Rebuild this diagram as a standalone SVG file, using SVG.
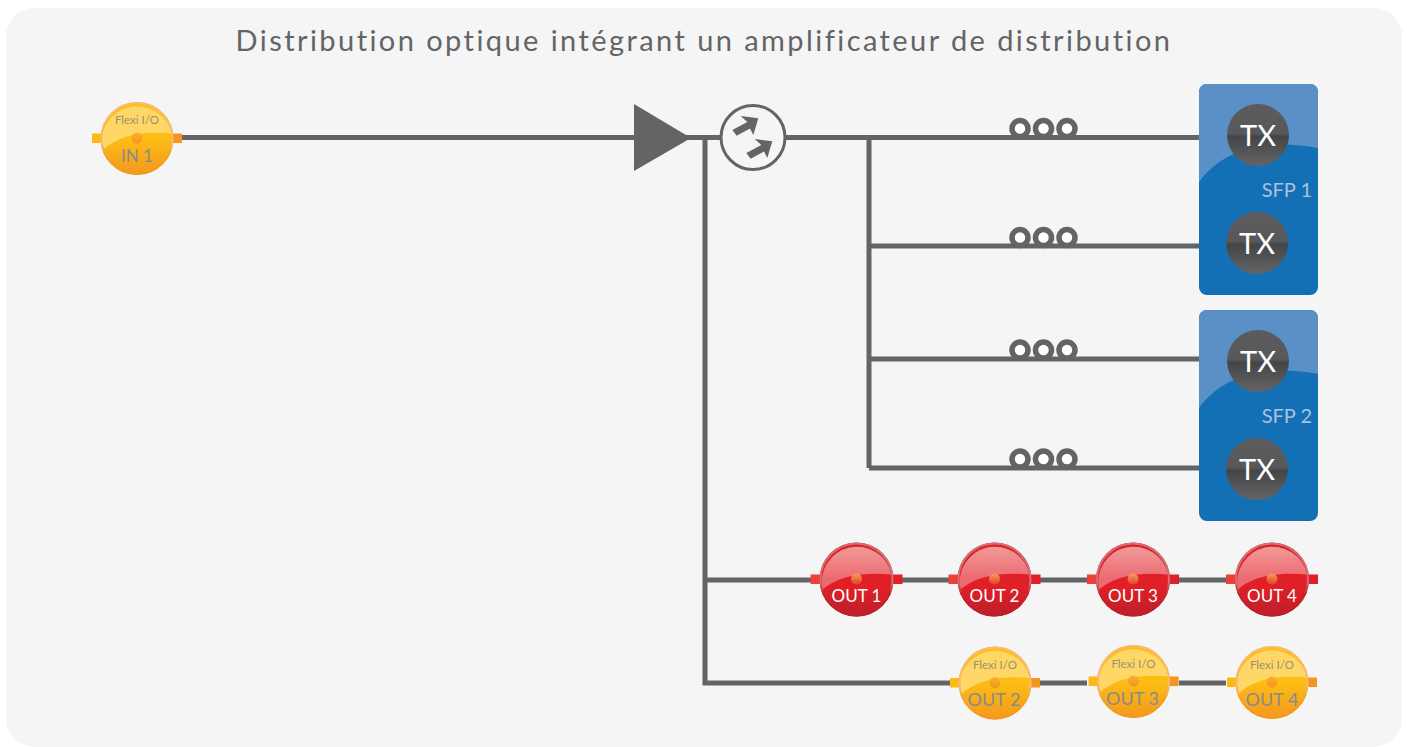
<svg xmlns="http://www.w3.org/2000/svg" width="1407" height="747" viewBox="0 0 1407 747">
<style>
text{font-family:"Lato","Open Sans","Liberation Sans",sans-serif}
.wire{stroke:#636466;stroke-width:5;fill:none}
.coil{stroke:#636466;stroke-width:5.500;fill:#fff}
.t{text-anchor:middle}
.tx{font-size:29px;fill:#fff;text-anchor:middle}
.sfp{font-size:20px;fill:#a9c3dc;text-anchor:end}
.out{font-size:17px;fill:#fff;text-anchor:middle}
.outy{font-size:18px;fill:#8a8a8a;text-anchor:middle}
.in{font-size:17px}
.flexi{font-size:11.500px;fill:#9a9270;text-anchor:middle}
</style>
<defs>
<linearGradient id="gy" x1="0" y1="0" x2="0" y2="1"><stop offset="0" stop-color="#fdc010"/><stop offset=".5" stop-color="#fcbd14"/><stop offset="1" stop-color="#f4981f"/></linearGradient>
<linearGradient id="gr" x1="0" y1="0" x2="0" y2="1"><stop offset="0" stop-color="#e11f26"/><stop offset=".6" stop-color="#e11f26"/><stop offset="1" stop-color="#bb1f2a"/></linearGradient>
<linearGradient id="grt" x1="0" y1="0" x2="0" y2="1"><stop offset="0" stop-color="#f09a98"/><stop offset=".75" stop-color="#ec6a72"/></linearGradient>
<linearGradient id="rr" x1="0" y1="0" x2="0" y2="1"><stop offset="0" stop-color="#cf6f78"/><stop offset=".55" stop-color="#cf6f78"/><stop offset=".7" stop-color="#c9222b"/><stop offset="1" stop-color="#bb1f2a"/></linearGradient>
<linearGradient id="ry" x1="0" y1="0" x2="0" y2="1"><stop offset="0" stop-color="#f9b873"/><stop offset=".55" stop-color="#f9b873"/><stop offset=".75" stop-color="#f3a21e"/><stop offset="1" stop-color="#f09820"/></linearGradient>
<linearGradient id="gdr" x1="0" y1="0" x2="0" y2="1"><stop offset="0" stop-color="#f2a05a"/><stop offset="1" stop-color="#e5402e"/></linearGradient>
<linearGradient id="gdy" x1="0" y1="0" x2="0" y2="1"><stop offset="0" stop-color="#f9b32a"/><stop offset="1" stop-color="#f19321"/></linearGradient>
<linearGradient id="gtx" x1="0" y1="0" x2="0" y2="1"><stop offset="0" stop-color="#5c5c5e"/><stop offset=".48" stop-color="#58585a"/><stop offset=".52" stop-color="#444547"/><stop offset="1" stop-color="#646466"/></linearGradient>
<symbol id="yel" overflow="visible">
<rect x="-45" y="-5" width="10" height="9.500" fill="#fdb913"/>
<rect x="35" y="-5" width="10" height="9.500" fill="#f3951f"/>
<circle r="36.500" fill="url(#gy)"/>
<path d="M-34.500 12C-20-3 6-8 35-5A35 35 0 1 0-34.500 12Z" fill="#fed766"/>
<circle r="35.500" fill="none" stroke="url(#ry)" stroke-width="2"/>
<circle cy="-.5" r="5.500" fill="url(#gdy)"/>
</symbol>
<symbol id="red" overflow="visible">
<rect x="-46" y="-5" width="10" height="9.500" fill="#ee4036"/>
<rect x="35" y="-5" width="11" height="9.500" fill="#e11f26"/>
<circle r="37" fill="url(#gr)"/>
<path d="M-34 10C-20-3 6-8 35-5A35 35 0 1 0-34 10Z" fill="url(#grt)"/>
<circle r="36" fill="none" stroke="url(#rr)" stroke-width="2"/>
<circle cy="-.5" r="5.500" fill="url(#gdr)"/>
</symbol>
<symbol id="coil" overflow="visible">
<circle cx="1020" r="8" class="coil"/><circle cx="1043.500" r="8" class="coil"/><circle cx="1067" r="8" class="coil"/>
</symbol>
<symbol id="card" overflow="visible">
<rect width="119" height="211" rx="8" fill="#1370b5"/>
<path d="M0 98C27 62 72 55 119 64V8A8 8 0 0 0 111 0H8A8 8 0 0 0 0 8Z" fill="#5a90c6"/>
</symbol>
</defs>
<rect width="1407" height="747" fill="#fff"/>
<rect id="panel" x="6" y="8" width="1396" height="739" rx="28" fill="#f5f5f5"/>
<text id="title" x="704" y="51" class="t" font-size="29" letter-spacing="2.430" fill="#636466">Distribution optique intégrant un amplificateur de distribution</text>
<g id="connectors">
<path class="wire" d="M182 137.500H1199M705 137.500V683H950M869 137.500V468M869 246H1199M869 359H1199M869 468H1199M705 580H811M902 580H949M1040 580H1087M1179 580H1226M1040 683H1087M1179 683H1226"/>
<use href="#coil" y="128.500"/>
<use href="#coil" y="237.500"/>
<use href="#coil" y="350"/>
<use href="#coil" y="459"/>
</g>
<g id="in1"><use href="#yel" x="137" y="138.500"/><text x="137" y="124" class="flexi">Flexi I/O</text><text x="137" y="162" class="outy in">IN 1</text></g>
<g id="amplifier"><polygon points="634,104 691,138 634,171" fill="#636466"/></g>
<g id="splitter">
<circle cx="753" cy="137.500" r="32" fill="#f5f5f5" stroke="#636466" stroke-width="3"/>
<polygon points="732.300,130 747.300,122 740.700,116 758.300,118.300 753.300,135 750,128.500 736.700,135.700" fill="#636466"/>
<polygon points="746.300,153 761.300,145 754.700,139 772.300,141.300 767.300,158 764,151.500 750.700,158.700" fill="#636466"/>
</g>
<g id="sfp1"><use href="#card" x="1199" y="84"/>
<circle cx="1258" cy="135" r="31" fill="url(#gtx)"/><text x="1258" y="146" class="tx">TX</text>
<circle cx="1257" cy="243" r="31" fill="url(#gtx)"/><text x="1257" y="254" class="tx">TX</text>
<text x="1312" y="197" class="sfp">SFP 1</text></g>
<g id="sfp2"><use href="#card" x="1199" y="310"/>
<circle cx="1258" cy="361" r="31" fill="url(#gtx)"/><text x="1258" y="372" class="tx">TX</text>
<circle cx="1257" cy="469" r="31" fill="url(#gtx)"/><text x="1257" y="480" class="tx">TX</text>
<text x="1312" y="423" class="sfp">SFP 2</text></g>
<g id="red1"><use href="#red" x="856.500" y="579.500"/><text x="856.500" y="602" class="out">OUT 1</text></g>
<g id="red2"><use href="#red" x="994.500" y="579.500"/><text x="994.500" y="602" class="out">OUT 2</text></g>
<g id="red3"><use href="#red" x="1133" y="579.500"/><text x="1133" y="602" class="out">OUT 3</text></g>
<g id="red4"><use href="#red" x="1272" y="579.500"/><text x="1272" y="602" class="out">OUT 4</text></g>
<g id="yel2"><use href="#yel" x="995" y="683"/><text x="995" y="669" class="flexi">Flexi I/O</text><text x="994" y="706" class="outy">OUT 2</text></g>
<g id="yel3"><use href="#yel" x="1133.500" y="681.500"/><text x="1133.500" y="668" class="flexi">Flexi I/O</text><text x="1132.500" y="705" class="outy">OUT 3</text></g>
<g id="yel4"><use href="#yel" x="1272" y="682.500"/><text x="1272" y="669" class="flexi">Flexi I/O</text><text x="1272" y="706" class="outy">OUT 4</text></g>
</svg>
